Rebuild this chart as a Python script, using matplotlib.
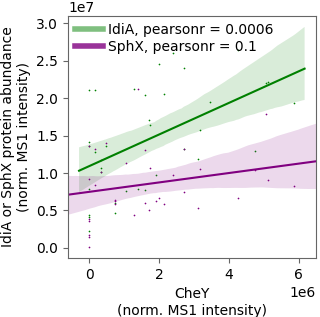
import matplotlib
matplotlib.use("Agg")
import matplotlib.pyplot as plt
from matplotlib.lines import Line2D
import numpy as np
import seaborn as sns

# CheY (x, 1e6) vs IdiA (y, 1e7)
idia_x = [0, 0, 0, 0, 0, 0, 0, 0.16, 0.16, 0.33, 0.33, 0.47, 0.74, 0.74,
          1.04, 1.27, 1.38, 1.59, 1.59, 1.70, 1.73, 1.90, 2.0, 2.14, 2.39,
          2.71, 2.71, 3.10, 3.16, 3.46, 4.25, 4.74, 5.05, 5.12, 5.87]
idia_y = [2.11, 1.42, 1.36, 0.78, 0.44, 0.41, 0.23, 2.11, 1.28, 1.07, 1.02,
          1.36, 0.47, 0.60, 0.76, 2.12, 0.78, 2.04, 0.77, 1.71, 1.64, 0.98,
          2.46, 2.06, 2.61, 2.41, 1.32, 1.19, 1.58, 1.95, 2.64, 1.29, 2.20,
          2.22, 1.93]

# CheY (x, 1e6) vs SphX (y, 1e7)
sphx_x = [0, 0, 0, 0, 0, 0, 0, 0.16, 0.16, 0.33, 0.33, 0.47, 0.74, 0.74,
          0.74, 1.04, 1.27, 1.38, 1.59, 1.59, 1.70, 1.73, 1.90, 2.0, 2.14,
          2.39, 2.71, 2.71, 3.10, 3.16, 4.25, 4.74, 5.05, 5.12, 5.87]
sphx_y = [1.36, 0.92, 0.39, 0.36, 0.17, 0.14, 0.01, 1.32, 0.84, 1.18, 1.02,
          1.40, 0.64, 0.62, 0.59, 1.13, 0.44, 2.13, 1.31, 0.60, 0.50, 1.07,
          0.63, 0.67, 0.59, 0.98, 0.75, 1.32, 0.53, 1.06, 0.67, 1.04, 1.79,
          0.91, 0.83]

labels = ["IdiA, pearsonr = 0.0006", "SphX, pearsonr = 0.1"]

plt.rcParams['font.size'] = 10

fig = plt.figure(figsize=(3.2, 3.17), dpi=100)
ax = fig.add_axes([0.2125, 0.186, 0.775, 0.764])

ix = np.array(idia_x) * 1e6
iy = np.array(idia_y) * 1e7
sx = np.array(sphx_x) * 1e6
sy = np.array(sphx_y) * 1e7

sns.regplot(x=ix, y=iy, ax=ax, color="green", truncate=False, seed=0,
            scatter_kws={"s": 1.5, "linewidths": 0, "alpha": 1},
            line_kws={"lw": 1.5})
# older seaborn let the second fit stretch over the widened axis
ax.set_xlim(-0.61e6, 6.49e6)
sns.regplot(x=sx, y=sy, ax=ax, color="purple", truncate=False, seed=0,
            scatter_kws={"s": 1.5, "linewidths": 0, "alpha": 1},
            line_kws={"lw": 1.5})
ax.set_xlim(-0.61e6, 6.49e6)

ax.set_xticks([0, 2e6, 4e6, 6e6])
ax.set_yticks(np.arange(0, 3.01e7, 0.5e7))

ax.set_xlabel("CheY\n(norm. MS1 intensity)")
ax.set_ylabel("IdiA or SphX protein abundance\n(norm. MS1 intensity)")

for s in ax.spines.values():
    s.set_color("#666666")
ax.tick_params(color="#666666")

handles = [Line2D([], [], color="green", alpha=0.5, lw=4),
           Line2D([], [], color="purple", alpha=0.8, lw=4)]
ax.legend(handles, labels, loc="upper left", frameon=False,
          handlelength=2.0, borderaxespad=0.1, labelspacing=0.2,
          handletextpad=0.4)

fig.savefig("out.png", dpi=100)
